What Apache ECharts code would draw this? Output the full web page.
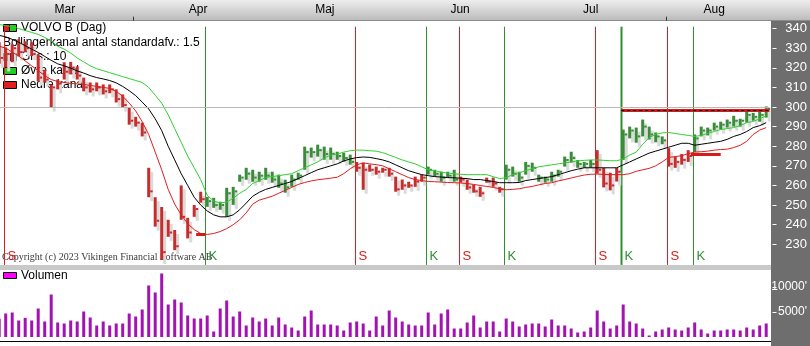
<!DOCTYPE html>
<html><head><meta charset="utf-8">
<script src="https://cdn.jsdelivr.net/npm/echarts@6/dist/echarts.min.js"></script>
<style>html,body{margin:0;padding:0;background:#fff;}#c{width:810px;height:346px;}</style>
</head><body><div id="c"></div>
<script>
// ---------- DATA ----------
const high=[333,330.4,332,334.5,333.5,333,326.9,319,311.5,314,
322.8,323,320.7,315,312.5,312.5,311.5,311.5,309,306.4,
299.7,295,292,269,254,249,242.5,237.3,260,243.5,
250,256.8,254.2,253.7,251.7,258.8,259.3,265.5,269,268,
267,269,267,265.5,262.9,265.5,266.5,279.8,279.3,280.8,
279.8,279.3,277.2,276.7,275.7,272,271.6,270.6,269.6,269,
269,264.5,263,261.9,264.5,265.5,269.6,268,267,267,
268,264.5,263,260.4,259.3,264,264,259.3,270.6,269.6,
267,272,271.6,265.5,264.5,267,268,274.7,277.2,273,
272,273,278,269,266.5,269,288.5,290,289.5,293.6,
290,287,285,279,274.7,276,278,286,290,289.5,
292,292.5,293.6,295.5,294,297.7,297,297.7,300.3];
const low=[322,320.2,322.8,325.8,327.9,326,313,312.5,299.7,309,
314,316.6,314,308,307.4,308,306.4,307,302.3,299.7,
291,290,285,254,239,222,233.8,227,242.5,233,
244,251.2,249.1,248.6,247.6,244,250.1,261.9,262.9,261.9,
261.9,262.9,261.4,258.8,256.3,259.3,262.9,268,274.2,274.7,
273.1,273.1,273.1,272.1,270.6,267,257.8,267,265.5,266.5,
264.5,256.8,257.8,258.8,259.3,261.9,265.5,264.5,261.9,263.9,
261.9,261.4,257.8,256.3,254.2,261.4,259.3,256.3,263,264.5,
261.9,265.5,267,261.9,261.4,261.9,264.5,269.6,271.6,269,
269,269,266,259,257.5,262,273,284,281.8,285,
283.4,282,281,269.6,269,270.6,272,277,285,285.5,
288,288.5,289.5,290,290,292,293,292.5,294.6];
const close=[325,327,330,328,330,327,315,314,310,312,
318,320,316,310,309,310,308,309,304,301,
293,292,287,257,242,226,236,229,244,236,
248,253,252,250,250,256,257,264,266,264,
265,265,263,261,259,263,265,277,277,278,
276,276,275,274,272,269,268,268,267,268,
266,258,260,260,262,264,268,266,264,265,
263,263,259,257,256,262,261,258,268,266,
264,270,269,264,263,265,267,273,274,271,
271,271,268,261,260,267,286,288,285,290,
286,285,283,271,272,273,275,284,288,288,
290,291,292,293,293,296,295,296,299];
const upperBand=[342,341.5,341,340,339,338,337,335.5,333.5,331,
329.5,327.5,325,323,321,319.5,318.5,317.5,316.5,315.5,
314.5,313.5,312.5,310,306,302,296,289,282,275,
269,263,255,252,251.2,251.5,253.5,256,258,261,
262.5,264,264.5,265,265.5,266,267.5,269,270.5,272,
274,275.5,276,277,277.7,278,278,277.7,277.5,276.7,
275.5,274.3,273,272,271,269.5,268,267.5,266.8,266.3,
266,265.7,265.5,265.5,265.5,265.5,264.5,263.5,264,265.5,
266.5,267.5,268.5,269.5,270,270.5,271,271.5,272,272.5,
272.8,273,273,272.8,272.6,272.6,273.5,275.5,277,281,
284.4,286,286.8,287,286.5,286,285.5,285,285.5,286.5,
287.5,288.5,289,289.5,290.5,292,292.6,294,295.5];
const middleBand=[336.5,335.8,334.5,333,331.3,329.5,327.8,325.8,323.8,322,
321,319.8,318.4,317.3,316,315,314.3,313.5,312.3,310.5,
308.3,305.8,302.5,299,294,288,280,273,266,260,
254,250,247,245,244,244,245,247.6,251,254.5,
256.5,258,259,260,261,262,263.5,265,266.5,268,
269,270,271,272.5,273.5,274.2,274.5,274.3,273.7,273,
272,270.5,269,267.5,266.5,265.5,265,264.5,264.3,264,
263.9,263.7,263.5,263,263,262.5,262,261.4,261.4,261.4,
261.5,262.5,263,263.5,264,264.5,265.5,266.5,267.5,268.3,
269,269,269,269,269,269,270.5,272,273.5,275,
276.5,277.5,278.5,279.5,280.5,281.5,281.5,280.5,281,281.5,
282,282.5,283.5,285,286,287.5,289.5,290.5,292];
const lowerBand=[331,330,328,326,323.5,321,318.5,316,314,313,
312.5,312,311.8,311.5,311,310.5,310,309.5,308,305.5,
302,298,292.5,286,277,268,258,250.5,245,240.5,
237.5,235.5,235,235.5,236.5,238,240,242.5,246,250.5,
252.5,253.5,254.5,256,257.5,259,260.5,261.5,262.3,262.9,
263.3,263.7,264.2,266,268.5,270.5,271.5,271,270.6,270,
268.5,267,265.5,264,263,262.5,262,261.9,261.7,261.5,
261.4,261.2,261,260.5,260,259.5,259,258.3,257.8,258,
258.3,259,259.5,260.3,261,261.4,262.3,263,263.8,264.6,
265.3,265.7,265.8,265.6,265.5,265.5,265.5,266,267.2,268,
268.7,270,272,274.3,274.7,275.2,276.2,277,277.2,277.5,
278,278.3,278.5,279.3,280.5,282.5,286,288.2,289.5];
const volume=[3630,4700,4900,3300,3830,3300,5700,3100,8500,2900,
2700,3300,3100,5100,3900,2300,3100,2300,2700,2700,
4700,4100,5500,10300,8900,12700,6500,7500,6900,4300,
3700,3700,4300,1100,5700,7300,4100,5100,2300,3900,
3100,3700,2300,3900,2500,1900,1300,4100,5300,2500,
2500,2500,2300,1300,2900,3100,2700,1300,4100,2300,
5300,3900,3100,2500,2300,2300,4900,2500,4700,5500,
1700,1700,2900,4300,1900,3100,3100,1100,3700,3100,
2100,2500,2700,2700,2100,3500,2300,2300,1700,900,
1100,1900,5300,3100,1700,2300,6500,3100,2700,1700,
300,1100,1500,1900,1500,1300,1900,2900,1500,700,
1300,1300,1500,1500,1300,1900,1500,2300,2700];
const sellSignals=[1,55,71,92,103];
const buySignals=[32,66,78,96,107];
const monthNames=['Mar','Apr','Maj','Jun','Jul','Aug'];
const monthPos=[10.1,30.6,50.1,70.9,91.0,110.0];
const monthTickPos=[20.6,102.6];
const priceTicks=[230,240,250,260,270,280,290,300,310,320,330,340];
const volumeTicks=[5000,10000];
const lastLevel=300;
const resistance=[95.7,118.5,298.1];
const stopSegments=[[30.3,31.7,235.2],[106.4,111,276]];
const titleText='VOLVO B (Dag)';
const paramText='Bollingerkanal antal standardafv.: 1.5';
const midText='Gns.: 10';
const upText='Øvre kanal';
const lowText='Nedre kanal';
const volText='Volumen';
const copyText='Copyright (c) 2023 Vikingen Financial Software AB';

// ---------- CHART ----------
const RED='#c62d2d', GREEN='#3a8c3a', SRED='#d82222', KGREEN='#2f8f2f';
const FONT='"Liberation Sans", Arial, sans-serif';
const XMIN=0.123, XMAX=118.508;
const signals=sellSignals.map(i=>[i,0]).concat(buySignals.map(i=>[i,1])).sort((a,b)=>a[0]-b[0]);
function isBuy(i){let t=0;for(const s of signals){if(s[0]<=i)t=s[1];}return t===1;}

const chart=echarts.init(document.getElementById('c'),null,{renderer:'canvas'});
const priceData=high.map((h,i)=>[i,h,low[i],close[i]]);

function renderBar(params,api){
  const i=api.value(0);
  const pH=api.coord([i,api.value(1)]), pL=api.coord([i,api.value(2)]), pC=api.coord([i,api.value(3)]);
  const col=isBuy(i)?GREEN:RED;
  const x=pH[0], h=Math.max(1.5,pL[1]-pH[1]);
  return {type:'group',children:[
    {type:'rect',shape:{x:x+1.5,y:pH[1]+4,width:3,height:h},style:{fill:'#dadada'}},
    {type:'rect',shape:{x:x-1.5,y:pH[1],width:3,height:h},style:{fill:col}},
    {type:'rect',shape:{x:x+1.5,y:pC[1]-1,width:2.5,height:2},style:{fill:col}}
  ]};
}
function renderSignal(params,api){
  const i=api.value(0), t=api.value(2);
  const cs=params.coordSys;
  const x=Math.round(api.coord([i-0.3,300])[0])+0.5;
  const col=t?KGREEN:SRED;
  return {type:'group',children:[
    {type:'line',shape:{x1:x,y1:cs.y+6,x2:x,y2:cs.y+cs.height+1},style:{stroke:col,lineWidth:(t&&i===96)?2:1}},
    {type:'text',x:x+3,y:cs.y+cs.height-1,style:{text:t?'K':'S',fill:col,font:'13px '+FONT,verticalAlign:'bottom',align:'left'}}
  ]};
}

const seg=(a,b,v)=>[{coord:[a,v]},{coord:[b,v]}];

const option={
  animation:false,
  textStyle:{fontFamily:FONT},
  grid:[
    {left:0,right:40.5,top:20.7,height:243.2},
    {left:0,right:40.5,top:270,height:67}
  ],
  xAxis:[
    {type:'value',gridIndex:0,min:XMIN,max:XMAX,show:false},
    {type:'value',gridIndex:1,min:XMIN,max:XMAX,show:false},
    {type:'value',gridIndex:0,position:'top',min:XMIN,max:XMAX,z:10,
     axisLine:{show:false},splitLine:{show:false},
     axisTick:{show:true,customValues:monthTickPos,length:4,lineStyle:{color:'#333'}},
     axisLabel:{customValues:monthPos,margin:5,color:'#000',fontSize:12,
       formatter:v=>{let b=0;monthPos.forEach((p,k)=>{if(Math.abs(p-v)<Math.abs(monthPos[b]-v))b=k;});return monthNames[b];}}}
  ],
  yAxis:[
    {type:'value',gridIndex:0,position:'right',min:220,max:344,offset:3,z:10,
     axisLine:{show:false},splitLine:{show:false},
     axisTick:{show:true,customValues:priceTicks,length:4,lineStyle:{color:'#fff'}},
     axisLabel:{customValues:priceTicks,color:'#fff',fontSize:13,align:'right',margin:34.5}},
    {type:'value',gridIndex:1,position:'right',min:0,max:13400,offset:3,z:10,
     axisLine:{show:false},splitLine:{show:false},
     axisTick:{show:true,customValues:volumeTicks,length:4,lineStyle:{color:'#fff'}},
     axisLabel:{customValues:volumeTicks,color:'#fff',fontSize:12,align:'right',margin:34.5,formatter:v=>v+"'"}}
  ],
  series:[
    {type:'line',xAxisIndex:0,yAxisIndex:0,data:[],z:1,silent:true,
     markLine:{silent:true,symbol:'none',label:{show:false},animation:false,
       data:[{yAxis:lastLevel,lineStyle:{color:'#b8b8b8',width:1,type:'solid'}}]}},
    {type:'custom',xAxisIndex:0,yAxisIndex:0,data:signals.map(s=>[s[0],300,s[1]]),renderItem:renderSignal,z:1,silent:true},
    {type:'custom',xAxisIndex:0,yAxisIndex:0,data:priceData,renderItem:renderBar,z:2,silent:true},
    {type:'line',xAxisIndex:0,yAxisIndex:0,data:upperBand.map((v,i)=>[i,v]),symbol:'none',z:3,silent:true,lineStyle:{color:'#2fd02f',width:1}},
    {type:'line',xAxisIndex:0,yAxisIndex:0,data:middleBand.map((v,i)=>[i,v]),symbol:'none',z:3,silent:true,lineStyle:{color:'#000',width:1}},
    {type:'line',xAxisIndex:0,yAxisIndex:0,data:lowerBand.map((v,i)=>[i,v]),symbol:'none',z:3,silent:true,lineStyle:{color:'#e01c1c',width:1},
     markLine:{silent:true,symbol:'none',label:{show:false},animation:false,
       data:[
         Object.assign(seg(resistance[0],resistance[1],resistance[2]),{}),
         ...stopSegments.map(s=>seg(s[0],s[1],s[2]))
       ].map(d=>{d[0].lineStyle={color:'#d41c1c',width:3,type:'solid'};return d;})
       .concat([[{coord:[resistance[0],resistance[2]],lineStyle:{color:'#000',width:1,type:[3,3]}},{coord:[resistance[1],resistance[2]]}]])}},
    {type:'bar',xAxisIndex:1,yAxisIndex:1,data:volume.map((v,i)=>[i,v]),barWidth:3,silent:true,itemStyle:{color:'#a313b4'}}
  ],
  graphic:[
    {type:'rect',z:-5,shape:{x:0,y:0,width:810,height:20},style:{fill:new echarts.graphic.LinearGradient(0,0,0,1,[{offset:0,color:'#eeeeee'},{offset:1,color:'#bcbcbc'}])}},
    {type:'line',z:-4,shape:{x1:0,y1:20.5,x2:810,y2:20.5},style:{stroke:'#8c8c8c',lineWidth:1}},
    {type:'rect',z:-5,shape:{x:771,y:21,width:39,height:325},style:{fill:'#6e6e6e'}},
    {type:'rect',z:-5,shape:{x:0,y:265,width:771,height:5},style:{fill:'#c9c9c9'}},
    {type:'line',z:-4,shape:{x1:0,y1:341.5,x2:771,y2:341.5},style:{stroke:'#000',lineWidth:1}},
    // legend price
    {type:'rect',z:1,shape:{x:3.5,y:24.5,width:6,height:7},style:{fill:'#e02020',stroke:'#000',lineWidth:1}},
    {type:'rect',z:1,shape:{x:9.5,y:24.5,width:7,height:7},style:{fill:'#20d020',stroke:'#000',lineWidth:1}},
    {type:'text',z:1,x:21,y:28,style:{text:titleText,font:'12px '+FONT,fill:'#000',verticalAlign:'middle'}},
    {type:'text',z:1,x:3,y:43,style:{text:paramText,font:'12px '+FONT,fill:'#000',verticalAlign:'middle'}},
    {type:'rect',z:1,shape:{x:3.5,y:53.5,width:13,height:7},style:{fill:'#000',stroke:'#000',lineWidth:1}},
    {type:'text',z:1,x:21,y:57,style:{text:midText,font:'12px '+FONT,fill:'#000',verticalAlign:'middle'}},
    {type:'rect',z:1,shape:{x:3.5,y:67.5,width:13,height:7},style:{fill:'#20d020',stroke:'#000',lineWidth:1}},
    {type:'text',z:1,x:21,y:71,style:{text:upText,font:'12px '+FONT,fill:'#000',verticalAlign:'middle'}},
    {type:'rect',z:1,shape:{x:3.5,y:81.5,width:13,height:7},style:{fill:'#e02020',stroke:'#000',lineWidth:1}},
    {type:'text',z:1,x:21,y:85,style:{text:lowText,font:'12px '+FONT,fill:'#000',verticalAlign:'middle'}},
    {type:'text',z:1,x:2,y:262,style:{text:copyText,font:'10px "Liberation Serif", serif',fill:'#3a3a3a',verticalAlign:'bottom'}},
    // legend volume
    {type:'rect',z:1,shape:{x:3.5,y:272.5,width:13,height:6},style:{fill:'#ff00ff',stroke:'#000',lineWidth:1}},
    {type:'text',z:1,x:21,y:276,style:{text:volText,font:'12px '+FONT,fill:'#000',verticalAlign:'middle'}}
  ]
};
chart.setOption(option);
</script></body></html>
